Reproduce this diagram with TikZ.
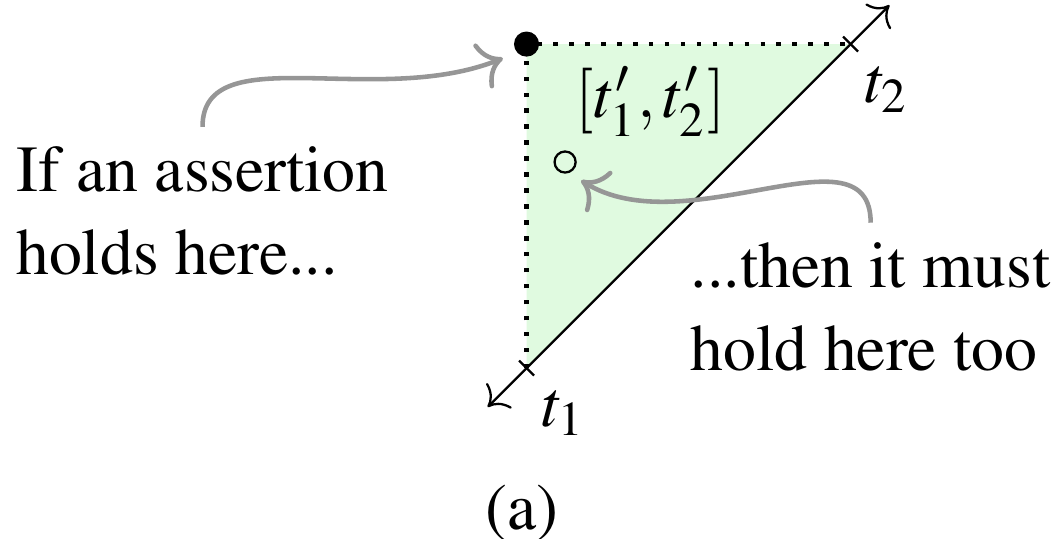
\documentclass[tikz,border=0pt]{standalone}
\usepackage[T1]{fontenc}
\usepackage{mathptmx}
\usetikzlibrary{arrows.meta}
\definecolor{regiongreen}{RGB}{224,250,224}
\definecolor{notegray}{RGB}{150,150,150}

\begin{document}
\begin{tikzpicture}[>={To[scale=1.2]},
    font=\fontsize{11.55}{14.6}\selectfont,
    note/.style={align=left},
    pointer/.style={->, notegray, line width=0.8pt}]

  \useasboundingbox (-3.25,-1.049) rectangle (3.268,2.272);

  \fill[regiongreen] (0,0) -- (0,2) -- (2,2) -- cycle;
  \draw[thick, dotted] (0,0) -- (0,2) -- (2,2);
  \draw[<->] (-0.24,-0.24) -- (2.24,2.24);
  \draw (-0.046,0.046) -- (0.046,-0.046); % tick at t_1
  \draw (1.954,2.046) -- (2.046,1.954); % tick at t_2
  \node (tone) at (0.231,-0.278) {$t_1$};
  \node (ttwo) at (2.225,1.716) {$t_2$};

  \node[circle, fill, inner sep=0, minimum size=0.155cm] (corner) at (0,2) {};
  \node[circle, draw, inner sep=0, minimum size=0.13cm] (ring) at (0.238,1.272) {};
  \node (pair) at (0.765,1.642) {$[t'_1, t'_2]$};

  \node[note] (here) at (-2.0,0.969) {If an assertion\\holds here...};
  \node[note] (there) at (2.124,0.377) {...then it must\\hold here too};
  \draw[pointer, shorten >=2.5pt] (here.north) .. controls +(90:0.556) and +(202:0.93) .. (corner.220);
  \draw[pointer, shorten >=2.5pt] (there.north) .. controls +(90:0.62) and +(-32:0.85) .. (ring.-70);

  \node (caption) at (-0.028,-0.895) {(a)};
\end{tikzpicture}
\end{document}
